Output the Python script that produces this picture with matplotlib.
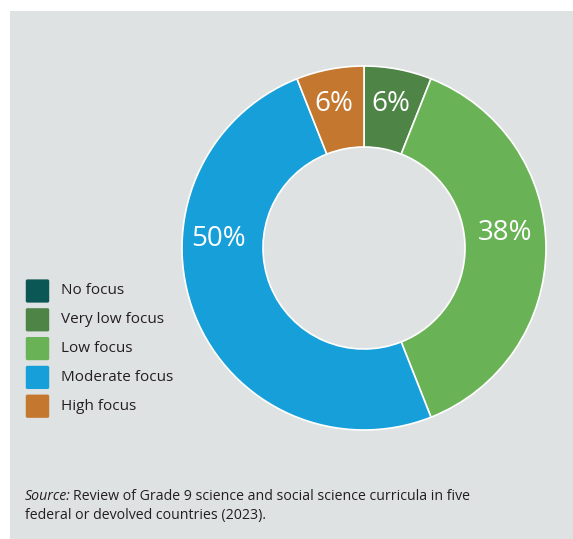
import matplotlib.pyplot as plt
import matplotlib.patches as patches

plt.rcParams['font.family'] = ['Open Sans', 'DejaVu Sans']

# dados
categories = ['No focus', 'Very low focus', 'Low focus', 'Moderate focus', 'High focus']
values = [0, 6, 38, 50, 6]
colors = ['#0b5755', '#4e8446', '#6ab256', '#179fda', '#c4772f']
pct_labels = ['', '6%', '38%', '50%', '6%']
source_line1 = 'Review of Grade 9 science and social science curricula in five'
source_line2 = 'federal or devolved countries (2023).'

W, H = 573, 539
fig = plt.figure(figsize=(W / 100, H / 100), dpi=100)
fig.patch.set_facecolor('white')

# painel cinza (eixo de fundo)
bg = fig.add_axes([10 / W, 0, 1 - 10 / W, 1 - 11 / H], zorder=-1)
bg.set_facecolor('#dfe2e2')
bg.set_xticks([])
bg.set_yticks([])
for s in bg.spines.values():
    s.set_visible(False)

# eixo do donut: centro (364, 248) px, raio 182 px
R = 182
lim = 1.05
cx, cy = 364, H - 248
aw = 2 * lim * R
ax = fig.add_axes([(cx - aw / 2) / W, (cy - aw / 2) / H, aw / W, aw / H])

wedges, _ = ax.pie(values, colors=colors, startangle=90, counterclock=False,
                   radius=1, wedgeprops=dict(width=0.445, edgecolor='white', linewidth=1.2))
ax.set_xlim(-lim, lim)
ax.set_ylim(-lim, lim)
ax.axis('off')

# rótulos de percentagem (posições ajustadas à mão, como no original)
label_pos = {1: (0.145, 0.79), 2: (0.775, 0.08), 3: (-0.80, 0.05), 4: (-0.165, 0.79)}
for i, (x, y) in label_pos.items():
    ax.text(x, y, pct_labels[i], color='white', fontsize=20, ha='center', va='center')

# legenda
y0 = 291
step = 28.8
for i, (cat, col) in enumerate(zip(categories, colors)):
    yc = y0 + i * step
    fig.patches.append(patches.FancyBboxPatch(((26 + 1.5) / W, (H - yc - 10) / H), 20 / W, 20 / H,
                                              boxstyle='round,pad=0.003', transform=fig.transFigure,
                                              facecolor=col, edgecolor='none'))
    fig.text(61 / W, (H - yc) / H, cat, fontsize=11, color='#231f20', va='center', ha='left')

# fonte
fs = 10.2
t = fig.text(25 / W, (H - 496) / H, 'Source:', fontsize=fs, style='italic', color='#231f20',
             va='center', ha='left')
fig.canvas.draw()
x_end = t.get_window_extent().x1 + 2.5
fig.text(x_end / W, (H - 496) / H, source_line1, fontsize=fs, color='#231f20',
         va='center', ha='left')
fig.text(25 / W, (H - 515.5) / H, source_line2, fontsize=fs, color='#231f20',
         va='center', ha='left')

fig.savefig('out.png', dpi=100)
